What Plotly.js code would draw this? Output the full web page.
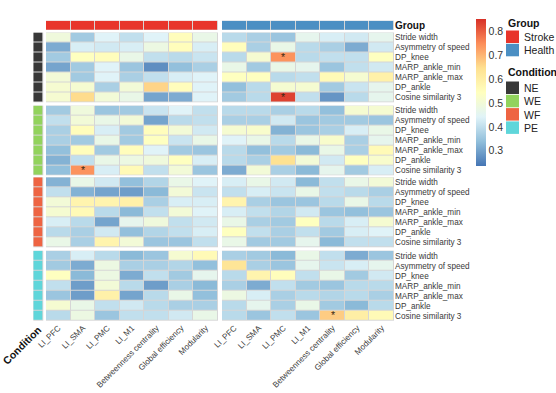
<!DOCTYPE html>
<html>
<head>
<meta charset="utf-8">
<script src="https://cdn.plot.ly/plotly-3.0.1.min.js"></script>
<style>html,body{margin:0;padding:0;background:#fff;}#chart{width:556px;height:393px;}</style>
</head>
<body>
<div id="chart"></div>
<script>
// ---------- DATA ----------
const columns = ['LI_PFC','LI_SMA','LI_PMC','LI_M1','Betweenness centrality','Global efficiency','Modularity'];
const rows = ['Stride width','Asymmetry of speed','DP_knee','MARP_ankle_min','MARP_ankle_max','DP_ankle','Cosine similarity 3'];
const groups = ['Stroke','Health'];
const conditions = ['NE','WE','WF','PE'];
const groupColors = ['#e8352b','#4b8fc3'];
const conditionColors = ['#383838','#92d35d','#ee6442','#5fd6da'];

const ne_stroke = [
  [0.49,0.36,0.44,0.40,0.44,0.55,0.47],
  [0.31,0.43,0.42,0.43,0.48,0.55,0.43],
  [0.36,0.54,0.55,0.47,0.40,0.39,0.41],
  [0.30,0.36,0.44,0.35,0.27,0.34,0.37],
  [0.50,0.36,0.44,0.37,0.40,0.43,0.44],
  [0.51,0.51,0.37,0.50,0.66,0.55,0.44],
  [0.51,0.65,0.50,0.47,0.30,0.31,0.44]];
const ne_health = [
  [0.39,0.37,0.35,0.46,0.43,0.42,0.46],
  [0.55,0.37,0.47,0.39,0.37,0.31,0.42],
  [0.39,0.51,0.74,0.39,0.40,0.40,0.54],
  [0.47,0.36,0.47,0.46,0.35,0.40,0.42],
  [0.54,0.54,0.39,0.40,0.56,0.51,0.59],
  [0.34,0.39,0.51,0.51,0.36,0.41,0.46],
  [0.36,0.39,0.83,0.40,0.28,0.39,0.46]];
const we_stroke = [
  [0.36,0.49,0.35,0.36,0.41,0.44,0.40],
  [0.40,0.50,0.47,0.50,0.30,0.39,0.40],
  [0.37,0.55,0.43,0.36,0.55,0.50,0.42],
  [0.37,0.36,0.47,0.36,0.54,0.41,0.47],
  [0.34,0.55,0.36,0.55,0.44,0.36,0.35],
  [0.32,0.40,0.47,0.48,0.49,0.54,0.43],
  [0.34,0.74,0.43,0.56,0.40,0.50,0.35]];
const we_health = [
  [0.39,0.39,0.37,0.39,0.34,0.51,0.51],
  [0.37,0.37,0.42,0.35,0.36,0.36,0.35],
  [0.51,0.52,0.32,0.35,0.37,0.43,0.47],
  [0.44,0.47,0.39,0.47,0.52,0.37,0.46],
  [0.39,0.34,0.36,0.33,0.47,0.37,0.56],
  [0.39,0.37,0.64,0.50,0.42,0.54,0.52],
  [0.31,0.50,0.37,0.33,0.46,0.36,0.43]];
const wf_stroke = [
  [0.32,0.47,0.42,0.34,0.38,0.47,0.44],
  [0.40,0.32,0.30,0.29,0.33,0.50,0.41],
  [0.50,0.58,0.58,0.59,0.37,0.43,0.43],
  [0.51,0.56,0.39,0.33,0.40,0.50,0.44],
  [0.43,0.39,0.30,0.46,0.49,0.40,0.42],
  [0.39,0.37,0.42,0.34,0.38,0.40,0.43],
  [0.47,0.37,0.58,0.50,0.35,0.35,0.40]];
const wf_health = [
  [0.43,0.47,0.42,0.33,0.40,0.47,0.50],
  [0.40,0.43,0.41,0.47,0.40,0.39,0.37],
  [0.58,0.37,0.35,0.35,0.39,0.47,0.39],
  [0.43,0.40,0.38,0.42,0.35,0.34,0.35],
  [0.47,0.37,0.36,0.54,0.39,0.43,0.51],
  [0.54,0.40,0.37,0.40,0.36,0.43,0.44],
  [0.47,0.36,0.36,0.46,0.33,0.40,0.40]];
const pe_stroke = [
  [0.37,0.43,0.39,0.33,0.35,0.51,0.56],
  [0.36,0.31,0.48,0.37,0.37,0.38,0.34],
  [0.54,0.33,0.48,0.31,0.40,0.36,0.46],
  [0.40,0.29,0.50,0.39,0.29,0.37,0.33],
  [0.35,0.29,0.59,0.30,0.39,0.47,0.34],
  [0.51,0.47,0.40,0.42,0.39,0.37,0.37],
  [0.39,0.48,0.35,0.40,0.40,0.42,0.47]];
const pe_health = [
  [0.37,0.36,0.33,0.47,0.40,0.31,0.35],
  [0.63,0.37,0.35,0.46,0.41,0.43,0.46],
  [0.39,0.58,0.55,0.40,0.47,0.36,0.42],
  [0.37,0.31,0.40,0.36,0.35,0.39,0.39],
  [0.48,0.43,0.37,0.39,0.38,0.39,0.37],
  [0.39,0.46,0.37,0.47,0.36,0.33,0.39],
  [0.39,0.35,0.40,0.35,0.67,0.60,0.56]];

// significant cells: [condition, group, row, column]
const significant = [
  ['NE','Health','DP_knee','LI_PMC'],
  ['NE','Health','Cosine similarity 3','LI_PMC'],
  ['WE','Stroke','Cosine similarity 3','LI_SMA'],
  ['PE','Health','Cosine similarity 3','Betweenness centrality']
];
const colorTicks = [0.3,0.4,0.5,0.6,0.7,0.8];

// ---------- LAYOUT HELPERS ----------
const W = 556, H = 393;
const fx = p => p / W;
const fy = p => 1 - p / H;
const blockPx = [[32.5,102.3],[105.6,175.3],[177.3,247.3],[250.7,320.7]];
const panelPx = [[46,218],[222,394]];
const condBarPx = [33.3,43.3];
const groupBarPx = [20.7,30];

const dataByBlock = {
  NE: [ne_stroke, ne_health], WE: [we_stroke, we_health],
  WF: [wf_stroke, wf_health], PE: [pe_stroke, pe_health]
};

const colorscale = [[0,'#4575B4'],[1/6,'#91BFDB'],[2/6,'#E0F3F8'],[3/6,'#FFFFBF'],[4/6,'#FEE090'],[5/6,'#FC8D59'],[1,'#D73027']];
const font = 'Liberation Sans, Arial, sans-serif';

const traces = [];
conditions.forEach((cond, bi) => {
  const yId = bi === 0 ? 'y' : 'y' + (bi + 1);
  groups.forEach((g, gi) => {
    const z = dataByBlock[cond][gi];
    const txt = rows.map(r => columns.map(c =>
      significant.some(s => s[0] === cond && s[1] === g && s[2] === r && s[3] === c) ? '*' : ''));
    traces.push({
      type: 'heatmap', z: z, x: columns, y: rows,
      xaxis: gi === 0 ? 'x' : 'x2', yaxis: yId,
      coloraxis: 'coloraxis', xgap: 1, ygap: 1,
      text: txt, texttemplate: '%{text}',
      textfont: {size: 10.5, color: '#3a2814', family: font},
      hoverinfo: 'skip'
    });
  });
  // condition annotation bar
  traces.push({
    type: 'heatmap', z: rows.map(() => [bi]), x: [0], y: rows,
    xaxis: 'x3', yaxis: yId, zmin: 0, zmax: conditions.length - 1,
    colorscale: (() => { const cs = []; const n = conditionColors.length;
      conditionColors.forEach((c, i) => { cs.push([i / n, c]); cs.push([(i + 1) / n, c]); }); return cs; })(),
    showscale: false, xgap: 1, ygap: 1, hoverinfo: 'skip'
  });
});
// group annotation bar
groups.forEach((g, gi) => {
  traces.push({
    type: 'heatmap', z: [columns.map(() => gi)], x: columns, y: ['Group'],
    xaxis: gi === 0 ? 'x' : 'x2', yaxis: 'y5', zmin: 0, zmax: groups.length - 1,
    colorscale: [[0, groupColors[0]], [1, groupColors[1]]],
    showscale: false, xgap: 1, ygap: 0, hoverinfo: 'skip'
  });
});

const tickFont = {family: font, size: 8.2, color: '#3a3a3a'};
const layout = {
  width: W, height: H, margin: {l: 0, r: 0, t: 0, b: 0},
  paper_bgcolor: '#ffffff', plot_bgcolor: '#d6d6d6',
  showlegend: false, font: {family: font},
  coloraxis: {
    cmin: 0.235, cmax: 0.85, colorscale: colorscale,
    colorbar: {
      x: fx(476), xanchor: 'left', y: fy(19.3), yanchor: 'top',
      len: 147, lenmode: 'pixels', thickness: 10, thicknessmode: 'pixels',
      outlinewidth: 0, ticks: '', tickvals: colorTicks,
      tickfont: {family: font, size: 10.5, color: '#333'}, xpad: 0, ypad: 0
    }
  },
  xaxis: {domain: [fx(panelPx[0][0]), fx(panelPx[0][1])], anchor: 'y4', tickangle: -45,
    tickmode: 'array', tickvals: columns, ticktext: columns,
    tickfont: tickFont, ticks: '', showgrid: false, zeroline: false, showline: false, fixedrange: true},
  xaxis2: {domain: [fx(panelPx[1][0]), fx(panelPx[1][1])], anchor: 'y4', tickangle: -45,
    tickmode: 'array', tickvals: columns, ticktext: columns,
    tickfont: tickFont, ticks: '', showgrid: false, zeroline: false, showline: false, fixedrange: true},
  xaxis3: {domain: [fx(condBarPx[0]), fx(condBarPx[1])], anchor: 'y4', tickangle: -45,
    tickmode: 'array', tickvals: [0], ticktext: ['<b>Condition</b>'], tickfont: {family: font, size: 10.5, color: '#111'},
    ticks: '', showgrid: false, zeroline: false, showline: false},
  yaxis5: {domain: [fy(groupBarPx[1]), fy(groupBarPx[0])], anchor: 'x2', side: 'right',
    tickmode: 'array', tickvals: ['Group'], ticktext: ['<b>Group</b>'], tickfont: {family: font, size: 10, color: '#111'},
    ticks: '', showgrid: false, zeroline: false},
  shapes: [], annotations: []
};
blockPx.forEach((b, i) => {
  layout[i === 0 ? 'yaxis' : 'yaxis' + (i + 1)] = {
    domain: [fy(b[1]), fy(b[0])], anchor: 'x2', side: 'right', autorange: 'reversed',
    tickmode: 'array', tickvals: rows, ticktext: rows,
    tickfont: tickFont, ticks: '', showgrid: false, zeroline: false, showline: false
  };
});

// ---------- LEGENDS ----------
const legX = 506, boxW = 13;
const legTitle = (text, y) => layout.annotations.push({
  xref: 'paper', yref: 'paper', x: fx(legX), y: fy(y), xanchor: 'left', yanchor: 'middle',
  text: '<b>' + text + '</b>', showarrow: false, font: {family: font, size: 10.5, color: '#111'}});
const legItem = (label, color, yTop) => {
  layout.shapes.push({type: 'rect', xref: 'paper', yref: 'paper',
    x0: fx(legX), x1: fx(legX + boxW), y0: fy(yTop + 12.5), y1: fy(yTop), fillcolor: color, line: {width: 0}});
  layout.annotations.push({xref: 'paper', yref: 'paper', x: fx(legX + boxW + 3), y: fy(yTop + 6.5),
    xanchor: 'left', yanchor: 'middle', text: label, showarrow: false,
    font: {family: font, size: 10.5, color: '#222'}});
};
legTitle('Group', 23);
groups.forEach((g, i) => legItem(g, groupColors[i], 30.5 + i * 13.3));
legTitle('Condition', 72);
conditions.forEach((c, i) => legItem(c, conditionColors[i], 81.5 + i * 13.3));

Plotly.newPlot('chart', traces, layout, {displayModeBar: false, staticPlot: true});
</script>
</body>
</html>
